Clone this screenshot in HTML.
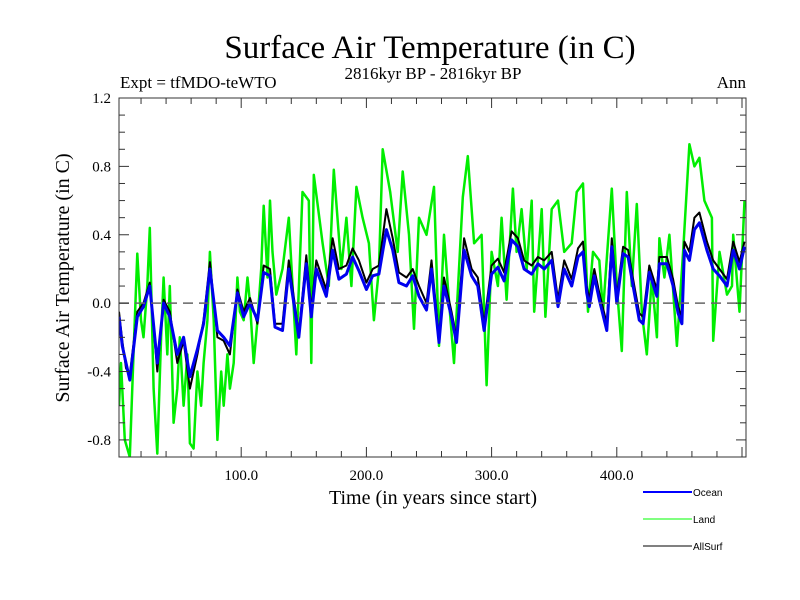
<!DOCTYPE html>
<html><head><meta charset="utf-8"><style>
body{margin:0;background:#fff;width:800px;height:600px;overflow:hidden}
svg{display:block}
.s{font-family:"Liberation Serif",serif}
</style></head><body>
<svg id="c" width="800" height="600" xmlns="http://www.w3.org/2000/svg">
<text class="s" x="430" y="58" font-size="33" text-anchor="middle">Surface Air Temperature (in C)</text>
<text class="s" x="120" y="88" font-size="17">Expt = tfMDO-teWTO</text>
<text class="s" x="433" y="79" font-size="17" text-anchor="middle">2816kyr BP - 2816kyr BP</text>
<text class="s" x="746" y="88" font-size="17" text-anchor="end">Ann</text>
<text class="s" transform="translate(69,278) rotate(-90)" font-size="20" text-anchor="middle">Surface Air Temperature (in C)</text>
<text class="s" x="433" y="504" font-size="20" text-anchor="middle">Time (in years since start)</text>
<g id="plot"></g>
<g>
<line x1="643" y1="492" x2="692" y2="492" stroke="#0000ff" stroke-width="2"/>
<text x="693" y="496" font-family="Liberation Sans, sans-serif" font-size="10">Ocean</text>
<line x1="643" y1="519" x2="692" y2="519" stroke="#00ff00" stroke-width="1"/>
<text x="693" y="523" font-family="Liberation Sans, sans-serif" font-size="10">Land</text>
<line x1="643" y1="546" x2="692" y2="546" stroke="#000" stroke-width="1"/>
<text x="693" y="550" font-family="Liberation Sans, sans-serif" font-size="10">AllSurf</text>
</g>
</svg>
<script>
const yTicks=[-0.8,-0.4,0.0,0.4,0.8,1.2];
const yTickLabels=["-0.8","-0.4","0.0","0.4","0.8","1.2"];
const xTicks=[100,200,300,400];
const xTickLabels=["100.0","200.0","300.0","400.0"];
const oceanYears=[2,5,8,11,17,22,27,33,38,43,49,54,59,65,70,75,81,86,91,97,102,107,113,118,123,127,133,138,146,152,156,160,168,173,178,184,189,194,200,205,210,216,221,226,232,237,242,248,252,258,262,268,272,278,284,289,294,300,305,310,316,321,326,332,337,342,348,353,358,364,369,373,376,378,382,386,392,396,400,405,409,413,418,421,426,432,434,440,445,449,452,454,458,462,466,472,477,482,488,493,498,502];
const oceanVals=[-0.08,-0.25,-0.35,-0.45,-0.08,-0.02,0.1,-0.35,0.0,-0.08,-0.3,-0.2,-0.43,-0.27,-0.12,0.2,-0.16,-0.2,-0.25,0.06,-0.08,0.0,-0.1,0.18,0.16,-0.14,-0.16,0.2,-0.2,0.23,-0.08,0.2,0.04,0.31,0.14,0.17,0.27,0.19,0.08,0.16,0.17,0.43,0.31,0.12,0.1,0.16,0.04,-0.04,0.2,-0.23,0.1,-0.08,-0.23,0.31,0.16,0.1,-0.16,0.17,0.21,0.13,0.37,0.33,0.2,0.17,0.23,0.2,0.25,-0.02,0.2,0.1,0.27,0.3,0.06,-0.02,0.16,0.02,-0.16,0.33,0.0,0.29,0.27,0.1,-0.1,-0.12,0.18,0.04,0.23,0.23,0.1,-0.06,-0.12,0.31,0.25,0.43,0.47,0.31,0.2,0.16,0.1,0.31,0.2,0.33];
const allYears=oceanYears;
const allVals=[-0.05,-0.22,-0.38,-0.42,-0.05,0.0,0.12,-0.4,0.02,-0.05,-0.35,-0.22,-0.5,-0.3,-0.1,0.24,-0.2,-0.22,-0.3,0.08,-0.05,0.03,-0.12,0.22,0.2,-0.12,-0.12,0.25,-0.18,0.28,-0.04,0.25,0.08,0.38,0.2,0.22,0.32,0.25,0.12,0.2,0.22,0.55,0.38,0.18,0.15,0.2,0.1,0.0,0.25,-0.2,0.15,-0.05,-0.2,0.38,0.2,0.15,-0.12,0.22,0.26,0.18,0.42,0.38,0.25,0.22,0.27,0.25,0.3,0.02,0.25,0.14,0.32,0.36,0.1,0.02,0.2,0.06,-0.12,0.38,0.04,0.33,0.31,0.14,-0.06,-0.08,0.22,0.08,0.27,0.27,0.14,-0.02,-0.08,0.36,0.3,0.5,0.53,0.36,0.25,0.2,0.14,0.36,0.24,0.36];
const landYears=[1,4,7,11,14,17,20,22,25,27,30,33,36,38,41,43,46,49,51,54,57,59,62,65,68,70,73,75,78,81,84,86,89,91,94,97,99,102,105,107,110,113,116,118,121,123,125,128,133,138,144,149,154,156,158,165,170,174,180,184,188,192,197,202,206,210,213,219,225,229,234,238,242,248,254,258,262,265,270,277,281,286,292,296,300,305,308,312,317,320,324,328,332,334,340,343,348,353,358,364,368,373,377,381,386,389,396,400,404,408,412,416,420,424,428,432,434,438,442,448,453,458,462,466,470,476,477,482,488,492,493,498,502];
const landVals=[-0.6,-0.35,-0.8,-0.9,-0.3,0.29,-0.1,-0.2,0.1,0.44,-0.5,-0.88,-0.2,0.15,-0.3,0.1,-0.7,-0.5,-0.2,-0.6,-0.3,-0.82,-0.85,-0.4,-0.6,-0.35,-0.1,0.3,-0.1,-0.8,-0.4,-0.6,-0.3,-0.5,-0.35,0.15,-0.05,-0.1,0.15,0.0,-0.35,-0.1,0.2,0.57,0.15,0.6,0.3,0.05,0.2,0.5,-0.3,0.65,0.6,-0.35,0.75,0.35,0.1,0.78,0.2,0.5,0.1,0.68,0.5,0.35,-0.1,0.2,0.9,0.65,0.3,0.77,0.4,-0.15,0.5,0.4,0.68,-0.25,0.4,0.1,-0.35,0.62,0.86,0.35,0.4,-0.48,0.3,0.1,0.5,0.02,0.67,0.3,0.55,0.2,0.6,-0.05,0.55,-0.08,0.55,0.6,0.3,0.35,0.65,0.7,-0.05,0.3,0.25,-0.05,0.67,0.1,-0.28,0.65,0.1,0.58,-0.05,-0.3,0.15,-0.2,0.38,0.15,0.4,-0.25,0.3,0.93,0.8,0.85,0.6,0.5,-0.22,0.3,0.05,0.1,0.4,-0.05,0.6];

const X0=119,X1=746,Y0=98,Y1=457;
const xMin=2.4,xMax=503.2,yMin=-0.9,yMax=1.2;
function sx(t){return X0+(t-xMin)/(xMax-xMin)*(X1-X0);}
function sy(v){return Y1-(v-yMin)/(yMax-yMin)*(Y1-Y0);}
const NS="http://www.w3.org/2000/svg";
const g=document.getElementById('plot');
function mk(tag,attrs){const e=document.createElementNS(NS,tag);for(const k in attrs)e.setAttribute(k,attrs[k]);g.appendChild(e);return e;}
function series(xs,vs,color,w,name){
  let d='';
  for(let i=0;i<xs.length;i++){d+=(i?'L':'M')+sx(Math.max(xMin,Math.min(xMax,xs[i]))).toFixed(1)+','+sy(vs[i]).toFixed(1);}
  const p=mk('path',{d:d,fill:'none',stroke:color,'stroke-width':w,'stroke-linejoin':'round'});
  
  
}
const clip=document.createElementNS(NS,'clipPath');clip.setAttribute('id','cp');
const cr=document.createElementNS(NS,'rect');cr.setAttribute('x',X0);cr.setAttribute('y',Y0);cr.setAttribute('width',X1-X0);cr.setAttribute('height',Y1-Y0);
clip.appendChild(cr);document.getElementById('c').appendChild(clip);
g.setAttribute('clip-path','url(#cp)');
series(landYears,landVals,'#00ee00',2.5,'land-line');
series(allYears,allVals,'#000',2,'allsurf-line');
series(oceanYears,oceanVals,'#0000ee',3,'ocean-line');
const zl=mk('line',{x1:X0,x2:X1,y1:sy(0),y2:sy(0),stroke:'#666','stroke-width':1.5,'stroke-dasharray':'10,6'});


const svg=document.getElementById('c');
function mk2(tag,attrs){const e=document.createElementNS(NS,tag);for(const k in attrs)e.setAttribute(k,attrs[k]);svg.appendChild(e);return e;}
const fr=mk2('rect',{x:X0,y:Y0,width:X1-X0,height:Y1-Y0,fill:'none',stroke:'#333','stroke-width':1});


for(let v=-0.9;v<=1.2001;v+=0.1){
  const major=yTicks.some(t=>Math.abs(t-v)<1e-6);const L=major?10:6;
  mk2('line',{x1:X0,x2:X0+L,y1:sy(v),y2:sy(v),stroke:'#333'});
  mk2('line',{x1:X1-L,x2:X1,y1:sy(v),y2:sy(v),stroke:'#333'});
}
for(let t=20;t<=500;t+=20){
  const major=t%100===0;const L=major?10:6;
  mk2('line',{x1:sx(t),x2:sx(t),y1:Y1,y2:Y1-L,stroke:'#333'});
  mk2('line',{x1:sx(t),x2:sx(t),y1:Y0,y2:Y0+L,stroke:'#333'});
}
yTicks.forEach((v,i)=>{
  const tx=mk2('text',{x:X0-8,y:sy(v)+5,'font-size':15,'text-anchor':'end','font-family':'Liberation Serif, serif'});
  tx.textContent=yTickLabels[i];
  
  
});
xTicks.forEach((t,i)=>{
  const tx=mk2('text',{x:sx(t),y:Y1+23,'font-size':15,'text-anchor':'middle','font-family':'Liberation Serif, serif'});
  tx.textContent=xTickLabels[i];
  
  
});
</script>
</body></html>
